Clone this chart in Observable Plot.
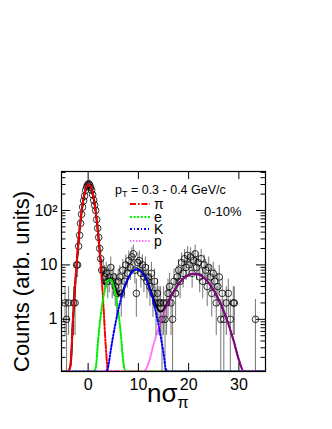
<!DOCTYPE html>
<html>
<head>
<meta charset="utf-8">
<script src="https://cdn.jsdelivr.net/npm/d3@7"></script>
<script src="https://cdn.jsdelivr.net/npm/@observablehq/plot@0.6"></script>
<style>
  html, body { margin: 0; padding: 0; background: white; }
  #chart svg { display: block; }
</style>
</head>
<body>
<div id="chart"></div>
<script>
// ---- Axis ticks ----
const xTicks = [0, 10, 20, 30];
const yTicks = [1, 10, 100];
const yMinorTicks = [0.2, 0.3, 0.4, 0.5, 0.6, 0.7, 0.8, 0.9, 2, 3, 4, 5, 6, 7, 8, 9, 20, 30, 40, 50, 60, 70, 80, 90, 200, 300, 400, 500];

// ---- Measured histogram (nσπ bin centre, counts) ----
const dataX = [-4.6,-4.3,-3.9,-2.9,-2.6,-2.3,-2.1,-1.9,-1.7,-1.5,-1.3,-1.1,-0.9,-0.7,-0.5,-0.3,-0.1,0.1,0.3,0.5,0.7,0.9,1.1,1.3,1.5,1.7,1.9,2.1,2.3,2.5,2.7,3.0,3.3,3.6,3.9,4.2,4.5,4.8,5.1,5.4,5.7,6.0,6.3,6.6,6.9,7.2,7.5,7.8,8.1,8.4,8.7,9.0,9.3,9.6,9.9,10.2,10.5,10.8,11.1,11.4,11.7,12.0,12.3,12.6,12.9,13.2,13.5,13.8,14.1,14.4,14.7,15.0,15.3,15.6,15.9,16.2,16.5,16.8,17.1,17.4,17.7,18.0,18.3,18.6,18.9,19.2,19.5,19.8,20.1,20.4,20.7,21.0,21.3,21.6,21.9,22.2,22.5,22.8,23.1,23.4,23.7,24.0,24.3,24.6,24.9,25.2,25.5,25.8,26.1,26.4,26.7,27.0,27.5,27.9,28.3,28.9,29.1,33.3];
const dataY = [2,1,2,2,2,10,10,22,35,58,85,115,150,185,235,270,295,310,295,265,235,195,155,125,100,68,47,32,20,13,8,8,6,7,5,6,9,5,6,4,3,5,6,3,8,5,10,7,12,9,14,16,8,3,11,12,7,10,6,9,5,6,4,7,3,5,2,3,2,2,1,2,1,2,3,4,2,1,5,3,6,8,5,11,7,13,9,15,10,14,7,12,16,9,11,6,13,5,10,8,4,9,6,3,7,5,2,4,6,1,3,1,2,3,1,2,2,1,1,1];

// ---- Fit components ----
const piX = [-5.3,-4,-3.5,-3,-2.5,-2,-1.5,-1,-0.5,0,0.5,1,1.5,2,2.5,3,3.5,4,35.3];
const piY = [0,0.015,0.145,1.05,5.6,22.6,67,149,246,303,278,190,96,36.2,10.1,2.13,0.33,0.038,0];

const eX = [-5.3,1,1.5,2,2.5,3,3.5,4,4.5,5,5.5,6,6.5,7,7.5,35.3];
const eY = [0,0.029,0.127,0.43,1.16,2.44,4.04,5.27,5.40,4.35,2.75,1.37,0.54,0.165,0.04,0];

const kX = [-5.3,3,3.5,4,4.5,5,5.5,6,6.5,7,7.5,8,8.5,9,9.5,10,10.5,11,11.5,12,12.5,13,13.5,14,14.5,15,15.5,16,35.3];
const kY = [0,0.029,0.065,0.137,0.27,0.51,0.895,1.47,2.28,3.31,4.5,5.76,6.92,7.8,8.26,8.21,7.65,6.71,5.51,4.26,3.08,2.1,1.34,0.8,0.45,0.24,0.119,0.055,0];

const pX = [-5.3,10,11,12,13,14,15,16,17,18,19,20,21,22,23,24,25,26,27,28,29,30,31,35.3];
const pY = [0,0.025,0.064,0.154,0.34,0.68,1.25,2.09,3.19,4.44,5.64,6.53,6.9,6.65,5.85,4.69,3.43,2.29,1.4,0.78,0.39,0.18,0.077,0];

const totX = [-5.3,-4,-3.5,-3,-2.5,-2,-1.5,-1,-0.5,0,0.5,1,1.5,2,2.5,3,3.5,4,4.5,5,5.5,6,6.5,7,7.5,8,8.5,9,9.5,10,10.5,11,11.5,12,12.5,13,13.5,14,14.5,15,15.5,16,17,18,19,20,21,22,23,24,25,26,27,28,29,30,31,35.3];
const totY = [0,0.015,0.145,1.05,5.6,22.6,67,149,246,303,278,190,96,36.6,11.3,4.6,4.4,5.44,5.67,4.86,3.65,2.84,2.82,3.48,4.54,5.76,6.92,7.8,8.26,8.21,7.65,6.71,5.61,4.41,3.31,2.44,1.83,1.48,1.39,1.49,1.76,2.15,3.19,4.44,5.64,6.53,6.9,6.65,5.85,4.69,3.43,2.29,1.4,0.78,0.39,0.18,0.077,0];

// ---- Legend ----
const legendLabels = ["π", "e", "K", "p"];
const legendColors = ["#ff0000", "#00ee00", "#0000ff", "#ff00ff"];
const legendDash = ["6,2,1.5,2", "2,1.6", "2,2,1,2", "1.5,1.5"];

// ---- build ----
const xDomain = [-5.3, 35.3];
const yMin = 0.11, yMax = 520;
const W = 332, H = 429, mL = 61, mR = 67, mT = 171, mB = 58;
const frameW = W - mL - mR, frameH = H - mT - mB;

const points = dataX.map((x, i) => ({x, y: dataY[i], e: Math.sqrt(dataY[i])}));
const curve = (xs, ys) => xs.map((x, i) => ({x, y: Math.max(ys[i], yMin)}));

const lineOpts = {x: "x", y: "y", curve: "monotone-x", clip: true, strokeWidth: 2};

const chart = Plot.plot({
  width: W, height: H,
  marginLeft: mL, marginRight: mR, marginTop: mT, marginBottom: mB,
  style: {fontFamily: "'Liberation Sans', Arial, sans-serif", background: "white", color: "black"},
  x: {domain: xDomain},
  y: {type: "log", domain: [yMin, yMax]},
  marks: [
    // error bars (gap around the marker)
    Plot.ruleX(points, {x: "x", y1: d => Math.max(d.y - d.e, yMin), y2: "y", insetTop: 3.5, stroke: "#808080", strokeWidth: 1.1, clip: true}),
    Plot.ruleX(points, {x: "x", y1: "y", y2: d => d.y + d.e, insetBottom: 3.5, stroke: "#808080", strokeWidth: 1.1, clip: true}),
    Plot.dot(points, {x: "x", y: "y", r: 3.3, stroke: "black", strokeWidth: 0.8, fill: "none"}),
    // fits
    Plot.line(curve(totX, totY), {...lineOpts, stroke: "black"}),
    Plot.line(curve(piX, piY), {...lineOpts, stroke: legendColors[0], strokeDasharray: legendDash[0]}),
    Plot.line(curve(eX, eY), {...lineOpts, stroke: legendColors[1], strokeDasharray: legendDash[1]}),
    Plot.line(curve(kX, kY), {...lineOpts, stroke: legendColors[2], strokeDasharray: legendDash[2]}),
    Plot.line(curve(pX, pY), {...lineOpts, stroke: legendColors[3], strokeOpacity: 0.55, strokeDasharray: legendDash[3]}),
    // inward ticks
    Plot.tickX(xTicks, {x: d => d, insetTop: frameH - 8, stroke: "black"}),
    Plot.tickX(xTicks, {x: d => d, insetBottom: frameH - 8, stroke: "black"}),
    Plot.tickY(yTicks, {y: d => d, insetRight: frameW - 9, stroke: "black"}),
    Plot.tickY(yTicks, {y: d => d, insetLeft: frameW - 9, stroke: "black"}),
    Plot.tickY(yMinorTicks, {y: d => d, insetRight: frameW - 4.5, stroke: "black"}),
    Plot.tickY(yMinorTicks, {y: d => d, insetLeft: frameW - 4.5, stroke: "black"}),
    Plot.axisX({ticks: xTicks, tickSize: 0, tickPadding: 7, fontSize: 16, label: null}),
    Plot.axisY({ticks: yTicks, tickSize: 0, tickPadding: 4, fontSize: 16, label: null,
      tickFormat: d => d === 100 ? "10²" : String(d)}),
    Plot.frame({stroke: "black", strokeWidth: 1.2})
  ]
});

document.getElementById("chart").appendChild(chart);

const svg = d3.select(chart);
const font = "'Liberation Sans', Arial, sans-serif";
const addText = (x, y, size) => svg.append("text")
  .attr("x", x).attr("y", y)
  .attr("font-family", font).attr("font-size", size).attr("fill", "black")
  .attr("text-anchor", "start");

// y-axis title
svg.append("text")
  .attr("transform", "translate(29,372) rotate(-90)")
  .attr("font-family", font).attr("font-size", 22).attr("fill", "black")
  .attr("text-anchor", "start")
  .text("Counts (arb. units)");

// x-axis title
const xt = addText(147, 402, 26);
xt.append("tspan").text("nσ");
xt.append("tspan").attr("font-size", 16).attr("dy", 6).text("π");

// header
const hd = addText(115, 194, 12.5);
hd.append("tspan").text("p");
hd.append("tspan").attr("font-size", 9).attr("dy", 3).text("T");
hd.append("tspan").attr("dy", -3).text(" = 0.3 - 0.4 GeV/c");

addText(204, 216, 13).text("0-10%");

// legend
const legendY = [204, 217, 229, 241];
legendLabels.forEach((lab, i) => {
  svg.append("line")
    .attr("x1", 130).attr("x2", 150).attr("y1", legendY[i]).attr("y2", legendY[i])
    .attr("stroke", legendColors[i]).attr("stroke-width", 2)
    .attr("stroke-opacity", i === 3 ? 0.55 : 1)
    .attr("stroke-dasharray", legendDash[i]);
  addText(154, legendY[i] + 5, 14).text(lab);
});
</script>
</body>
</html>
